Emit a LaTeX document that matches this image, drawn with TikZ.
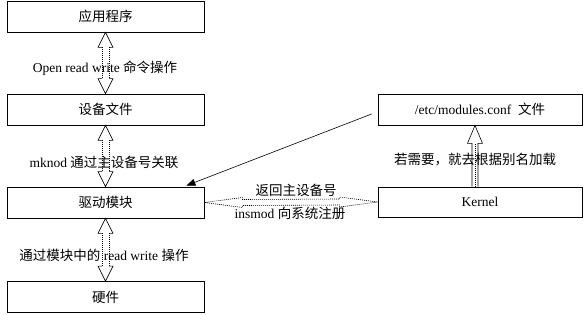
\documentclass[tikz,border=0pt]{standalone}
\usepackage{fontspec}
\setmainfont{Liberation Serif}
\newfontfamily\cjk{Noto Sans CJK SC}
\usepackage{tikz}
\usetikzlibrary{calc,arrows.meta}

\tikzset{
  box/.style={draw, line width=0.8pt, minimum width=197pt, minimum height=31pt, inner sep=0pt},
  headline/.style={line width=0.6pt, line join=miter},
  shaftline/.style={line width=0.6pt, dash pattern=on 1pt off 1pt},
}

% hollow double block arrow, top anchor #1, bottom anchor #2
\newcommand{\vbiarrow}[2]{%
  \draw[headline] let \p1=(#1), \p2=(#2) in
    (\x1-3.5pt,\y1-15pt) -- (\x1-7.5pt,\y1-15pt) -- (\x1,\y1) -- (\x1+7.5pt,\y1-15pt) -- (\x1+3.5pt,\y1-15pt)
    (\x2-3.5pt,\y2+15pt) -- (\x2-7.5pt,\y2+15pt) -- (\x2,\y2) -- (\x2+7.5pt,\y2+15pt) -- (\x2+3.5pt,\y2+15pt);
  \draw[shaftline] let \p1=(#1), \p2=(#2) in
    (\x1-3.5pt,\y1-15pt) -- (\x2-3.5pt,\y2+15pt)
    (\x1+3.5pt,\y1-15pt) -- (\x2+3.5pt,\y2+15pt);
}
% hollow single block arrow, from bottom #1 up to #2
\newcommand{\upblockarrow}[2]{%
  \draw[headline] let \p1=(#1), \p2=(#2) in
    (\x1-3pt,\y1) -- (\x1-3pt,\y2-18pt) -- (\x1-7.5pt,\y2-18pt) -- (\x2,\y2)
    -- (\x1+7.5pt,\y2-18pt) -- (\x1+3pt,\y2-18pt) -- (\x1+3pt,\y1);
  \draw[shaftline] let \p1=(#1), \p2=(#2) in (\x1,\y1) -- (\x1,\y2-18pt);
}
% thin hollow double arrow, left #1, right #2
\newcommand{\hbiarrow}[2]{%
  \draw[shaftline] let \p1=(#1), \p2=(#2) in
    (\x1,\y1) -- (\x1+38pt,\y1+5pt) -- (\x1+38pt,\y1+3pt) -- (\x2-38pt,\y2+3pt) -- (\x2-38pt,\y2+5pt) -- (\x2,\y2)
    -- (\x2-38pt,\y2-5pt) -- (\x2-38pt,\y2-3pt) -- (\x1+38pt,\y1-3pt) -- (\x1+38pt,\y1-5pt) -- cycle;
}

\begin{document}
\begin{tikzpicture}[x=1pt, y=-1pt, >={Triangle[length=9pt,width=7pt]},
    font=\fontsize{13.5}{16}\selectfont]
  \useasboundingbox (0,0) rectangle (584,315);
  % left column
  \node[box] (app) at (105.5,16.5) {\cjk 应用程序};
  \node[box] (dev) at (105.5,109.5) {\cjk 设备文件};
  \node[box] (drv) at (105.5,202.5) {\cjk 驱动模块};
  \node[box] (hw) at (105.5,297) {\cjk 硬件};
  % right column
  \node[box, minimum width=204pt] (conf) at (480,109.5) {/etc/modules.conf\ \ {\cjk 文件}};
  \node[box, minimum width=204pt, minimum height=30pt] (kern) at (480,202) {Kernel};

  \vbiarrow{app.south}{dev.north}
  \vbiarrow{dev.south}{drv.north}
  \vbiarrow{drv.south}{hw.north}
  \upblockarrow{[xshift=-5pt]kern.north}{[xshift=-5pt]conf.south}
  \hbiarrow{drv.east}{kern.west}

  \coordinate (confin) at ([xshift=-6pt,yshift=-4.5pt]conf.west);
  \draw[line width=0.6pt, ->] (confin) -- ([xshift=-18pt,yshift=1pt]drv.north east);

  \node (lblopen) at (105,68) {Open read write {\cjk 命令操作}};
  \node (lblmknod) at (104,162) {mknod {\cjk 通过主设备号关联}};
  \node (lblrw) at (104,255) {{\cjk 通过模块中的} read write {\cjk 操作}};
  \node (lblalias) at (475,160) {\cjk 若需要，就去根据别名加载};
  \node (lblret) at (296,190) {\cjk 返回主设备号};
  \node (lblins) at (290,213) {insmod {\cjk 向系统注册}};
\end{tikzpicture}
\end{document}
